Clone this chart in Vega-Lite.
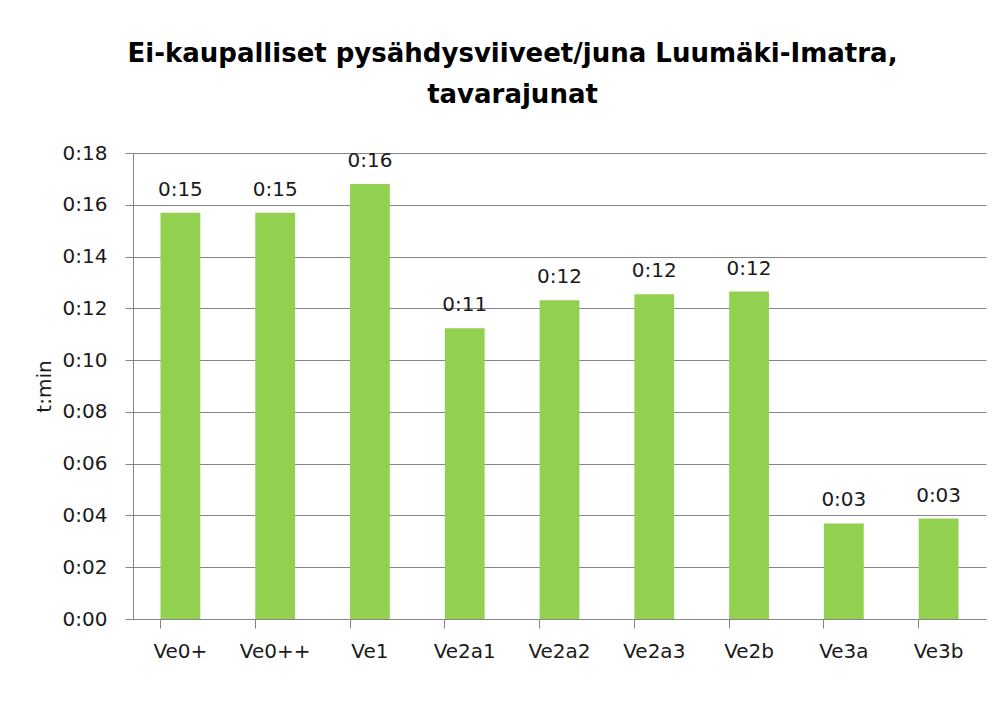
{
  "$schema": "https://vega.github.io/schema/vega-lite/v6.json",
  "width": 853,
  "height": 466,
  "autosize": {"type": "none"},
  "padding": {"left": 133, "top": 153, "right": 22, "bottom": 95},
  "background": "white",
  "title": {
    "text": ["Ei-kaupalliset pysähdysviiveet/juna Luumäki-Imatra,", "tavarajunat"],
    "font": "DejaVu Sans",
    "fontSize": 26,
    "fontWeight": "bold",
    "color": "black",
    "anchor": "middle",
    "frame": "group",
    "dx": -47,
    "offset": 35,
    "lineHeight": 41
  },
  "data": {
    "values": [
      {"scenario": "Ve0+", "value": 15.69, "label": "0:15"},
      {"scenario": "Ve0++", "value": 15.69, "label": "0:15"},
      {"scenario": "Ve1", "value": 16.8, "label": "0:16"},
      {"scenario": "Ve2a1", "value": 11.23, "label": "0:11"},
      {"scenario": "Ve2a2", "value": 12.31, "label": "0:12"},
      {"scenario": "Ve2a3", "value": 12.54, "label": "0:12"},
      {"scenario": "Ve2b", "value": 12.65, "label": "0:12"},
      {"scenario": "Ve3a", "value": 3.69, "label": "0:03"},
      {"scenario": "Ve3b", "value": 3.88, "label": "0:03"}
    ]
  },
  "config": {
    "view": {"stroke": null},
    "axis": {"labelFont": "DejaVu Sans", "titleFont": "DejaVu Sans", "labelColor": "#1a1a1a", "titleColor": "#1a1a1a"}
  },
  "encoding": {
    "x": {
      "field": "scenario",
      "type": "nominal",
      "sort": null,
      "scale": {"paddingInner": 0.58, "paddingOuter": 0.29},
      "axis": {
        "title": null,
        "labelAngle": 0,
        "labelFontSize": 20,
        "labelPadding": 13,
        "tickSize": 9,
        "bandPosition": 0,
        "domainColor": "#868686",
        "tickColor": "#868686",
        "labelBaseline": "top"
      }
    },
    "y": {
      "field": "value",
      "type": "quantitative",
      "scale": {"domain": [0, 18], "nice": false},
      "axis": {
        "title": "t:min",
        "titleFontSize": 20,
        "titleFontWeight": "normal",
        "titlePadding": 8,
        "values": [0, 2, 4, 6, 8, 10, 12, 14, 16, 18],
        "labelExpr": "'0:' + (datum.value < 10 ? '0' : '') + datum.value",
        "labelFontSize": 20,
        "labelPadding": 18,
        "tickSize": 8,
        "grid": true,
        "gridColor": "#868686",
        "domainColor": "#868686",
        "tickColor": "#868686"
      }
    }
  },
  "layer": [
    {"mark": {"type": "bar", "color": "#92D050"}},
    {
      "mark": {"type": "text", "font": "DejaVu Sans", "fontSize": 20, "color": "#1a1a1a", "baseline": "alphabetic", "dy": -17},
      "encoding": {"text": {"field": "label"}}
    }
  ]
}
